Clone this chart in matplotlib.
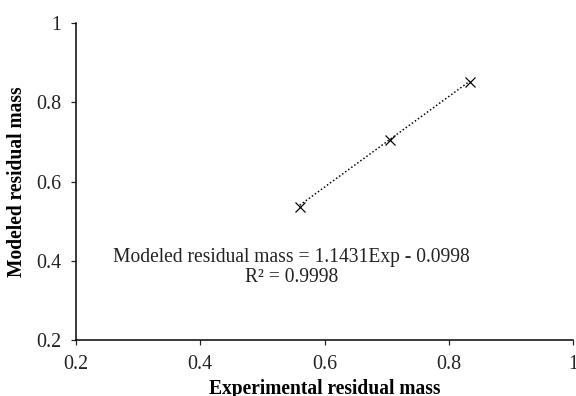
import matplotlib
matplotlib.use('Agg')
import matplotlib.pyplot as plt
import numpy as np

# valeurs
expMass = [0.560, 0.706, 0.834]
modMass = [0.537, 0.706, 0.852]
slope = 1.1431
intercept = -0.0998
r2 = 0.9998

plt.rcParams['font.family'] = ['Liberation Serif', 'DejaVu Serif']

fig = plt.figure(figsize=(8, 5.5), dpi=72)
ax = fig.add_axes([0.132, 0.141, 0.863, 0.801])

# ligne de tendance (pointillee)
xt = np.array([min(expMass), max(expMass)])
ax.plot(xt, slope * xt + intercept, color='black', linestyle=(0, (1, 1.5)), linewidth=1.5)
ax.plot(expMass, modMass, linestyle='none', marker='x', markersize=10, markeredgewidth=1.2, color='black')

ax.set_xlim(0.2, 1)
ax.set_ylim(0.2, 1)
ax.set_xticks([0.2, 0.4, 0.6, 0.8, 1])
ax.set_yticks([0.2, 0.4, 0.6, 0.8, 1])
ax.set_xticklabels(['0.2', '0.4', '0.6', '0.8', '1'])
ax.set_yticklabels(['0.2', '0.4', '0.6', '0.8', '1'])
ax.tick_params(direction='out', length=5, width=1.2, pad=10, labelsize=20, colors='#222222')
ax.spines['top'].set_visible(False)
ax.spines['right'].set_visible(False)
for s in ['left', 'bottom']:
    ax.spines[s].set_linewidth(1.5)

ax.set_xlabel('Experimental residual mass', fontsize=19.5, fontweight='bold', labelpad=5)
ax.set_ylabel('Modeled residual mass', fontsize=19.5, fontweight='bold', labelpad=9)

ax.text(0.547, 0.383, 'Modeled residual mass = %.4fExp - %.4f\nR\u00b2 = %.4f' % (slope, -intercept, r2),
        ha='center', va='center', fontsize=19.5, linespacing=1.05, color='#222222')

plt.savefig('out.png', dpi=72)
